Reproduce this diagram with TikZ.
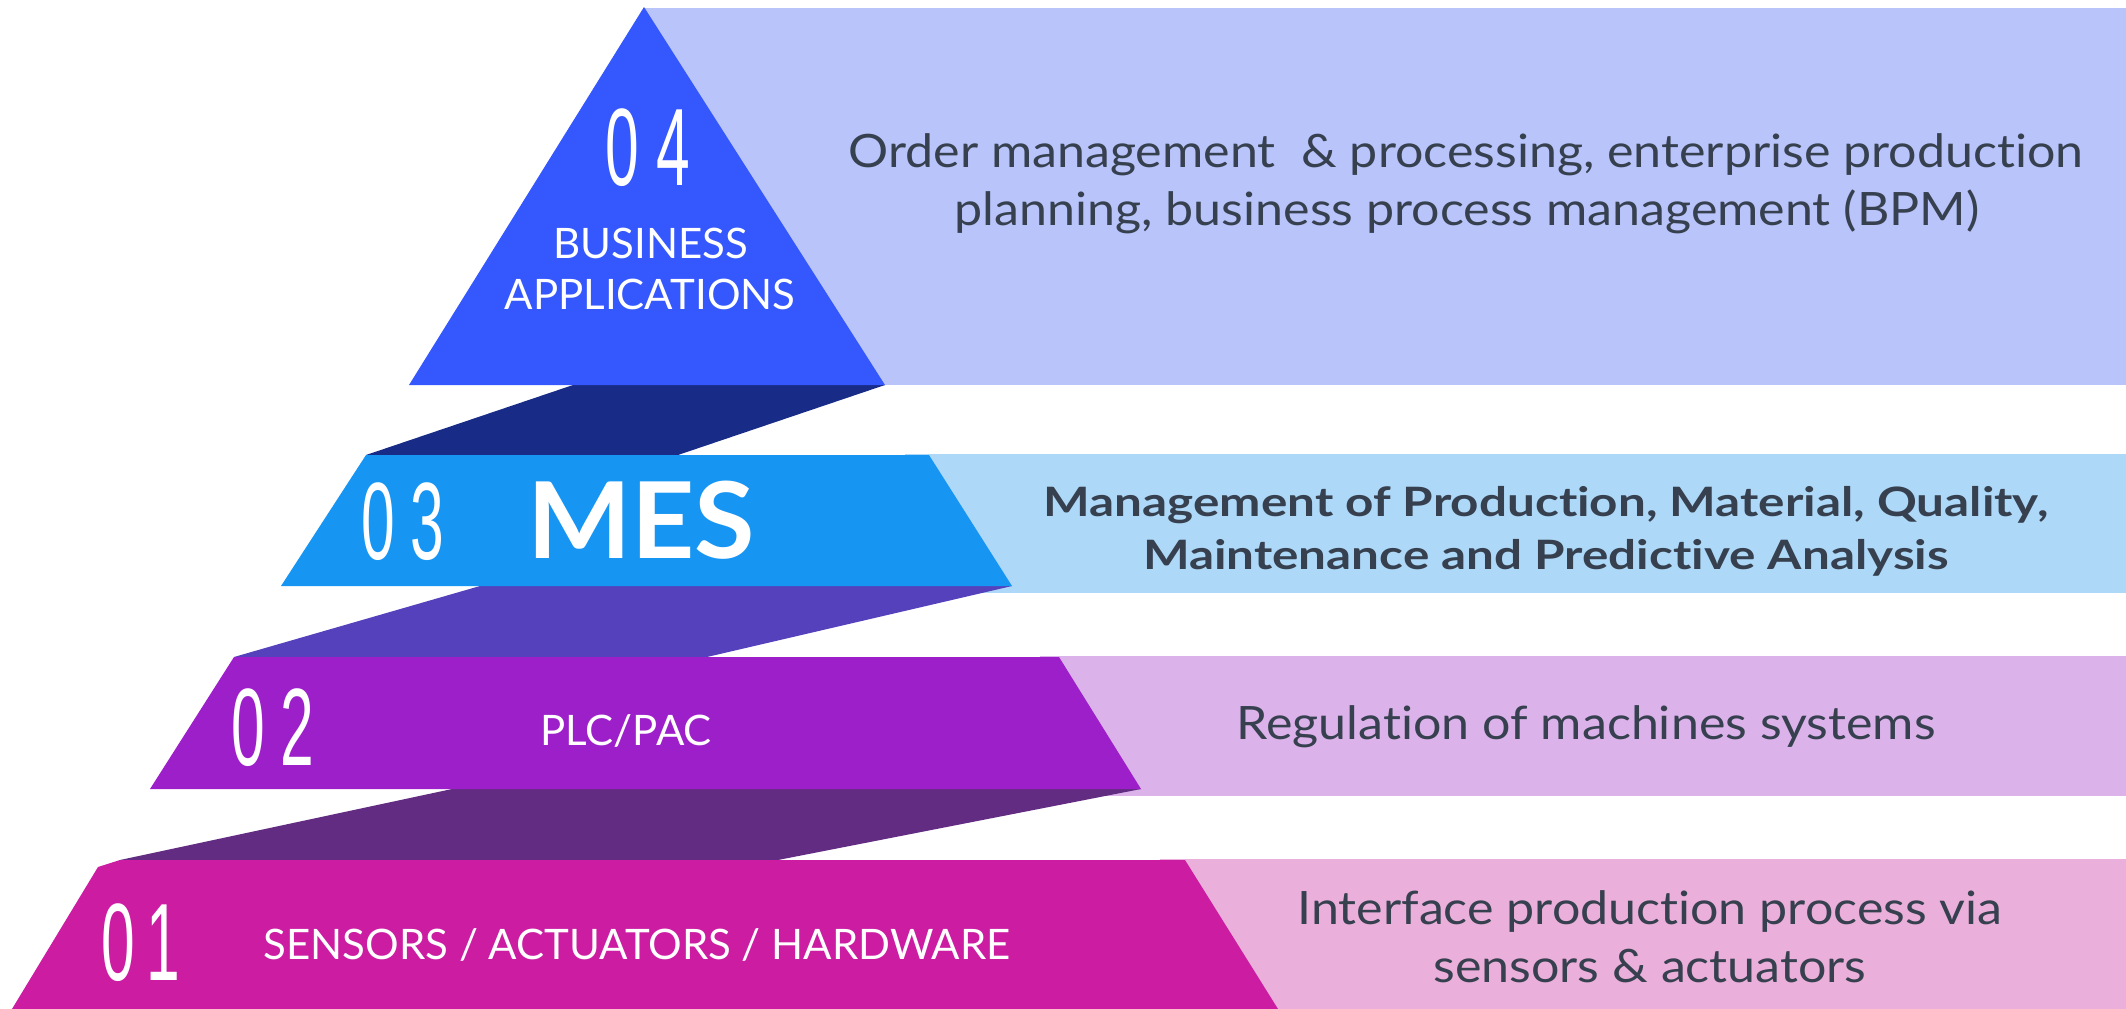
\documentclass[tikz,border=0pt]{standalone}
\usepackage{fontspec}
\setmainfont{Lato}
\newfontfamily\numfont[FakeStretch=0.55]{Liberation Sans}
\newfontfamily\descfont[FakeStretch=1.09,Ligatures=NoCommon]{Lato}
\newfontfamily\descbfont[FakeStretch=1.22,Ligatures=NoCommon]{Lato}
\newfontfamily\headfont[FakeStretch=1.04]{Lato}

% tier colours
\definecolor{tierA}{HTML}{3457FE}
\definecolor{tierAlight}{HTML}{B8C4FA}
\definecolor{linkA}{HTML}{172B87}
\definecolor{tierB}{HTML}{1795F3}
\definecolor{tierBlight}{HTML}{AED8F8}
\definecolor{linkB}{HTML}{5541BC}
\definecolor{tierC}{HTML}{9D1FC9}
\definecolor{tierClight}{HTML}{DBB2EA}
\definecolor{linkC}{HTML}{622C82}
\definecolor{tierD}{HTML}{CB1CA2}
\definecolor{tierDlight}{HTML}{EAAFDA}
\definecolor{txt}{HTML}{36404F}

\begin{document}
\begin{tikzpicture}[x=1pt,y=-1pt,
  desc/.style={font=\fontsize{46}{58}\selectfont\descfont, text=txt, inner sep=0pt, anchor=base},
  descbold/.style={font=\fontsize{40.5}{53}\selectfont\descbfont\bfseries, text=txt, inner sep=0pt, anchor=base},
  tierlabel/.style={font=\fontsize{42}{50}\selectfont, text=white, inner sep=0pt, anchor=base},
  tiernum/.style={font=\fontsize{110}{110}\selectfont\numfont, text=white, inner sep=0pt, anchor=base west},
  bigname/.style={font=\fontsize{106}{106}\selectfont\headfont\bfseries, text=white, inner sep=0pt, anchor=base west}]
\useasboundingbox (0,0) rectangle (2126,1009);

% description bands
\fill[tierAlight] (644,8) rectangle (2126,385);
\fill[tierBlight] (905,454) rectangle (2126,593);
\fill[tierClight] (1040,656) rectangle (2126,796);
\fill[tierDlight] (1160,859) rectangle (2126,1009);

% connecting slabs between the tiers
\fill[linkA] (573,385) -- (885,385) -- (678,455) -- (366,455) -- cycle;
\fill[linkB] (480,586) -- (1012,586) -- (707,657) -- (234,657) -- cycle;
\fill[linkC] (452,789) -- (1141,789) -- (778,860) -- (120,860) -- cycle;

% tiers of the pyramid
\fill[tierA] (644,7) -- (885,385) -- (409,385) -- cycle;
\fill[tierB] (366,455) -- (929,455) -- (1012,586) -- (281,586) -- cycle;
\fill[tierC] (234,657) -- (1059,657) -- (1141,789) -- (150,789) -- cycle;
\fill[tierD] (98,867) -- (120,860) -- (1185,860) -- (1278,1009) -- (12,1009) -- cycle;

% tier 4
\node[tiernum] (n4) at (605,185) {0\kern18pt4};
\node[tierlabel] (l4a) at (651,258) {BUSINESS};
\node[tierlabel] (l4b) at (650,309) {APPLICATIONS};
\node[desc] (d4a) at (1466,167) {Order management \ \& processing, enterprise production};
\node[desc] (d4b) at (1467,225) {planning, business process management (BPM)};

% tier 3
\node[tiernum] (n3) at (361,559) {0\kern16pt3};
\node[bigname] (l3) at (527,558) {MES};
\node[descbold] (d3a) at (1546,516) {Management of Production, Material, Quality,};
\node[descbold] (d3b) at (1546,569) {Maintenance and Predictive Analysis};

% tier 2
\node[tiernum] (n2) at (231,765) {0\kern16pt2};
\node[tierlabel] (l2) at (626,745) {PLC/PAC};
\node[desc] (d2) at (1586,739) {Regulation of machines systems};

% tier 1
\node[tiernum] (n1) at (101,980) {0\kern12pt1};
\node[tierlabel] (l1) at (637,959) {SENSORS / ACTUATORS / HARDWARE};
\node[desc] (d1a) at (1650,924) {Interface production process via};
\node[desc] (d1b) at (1650,982) {sensors \& actuators};
\end{tikzpicture}
\end{document}
